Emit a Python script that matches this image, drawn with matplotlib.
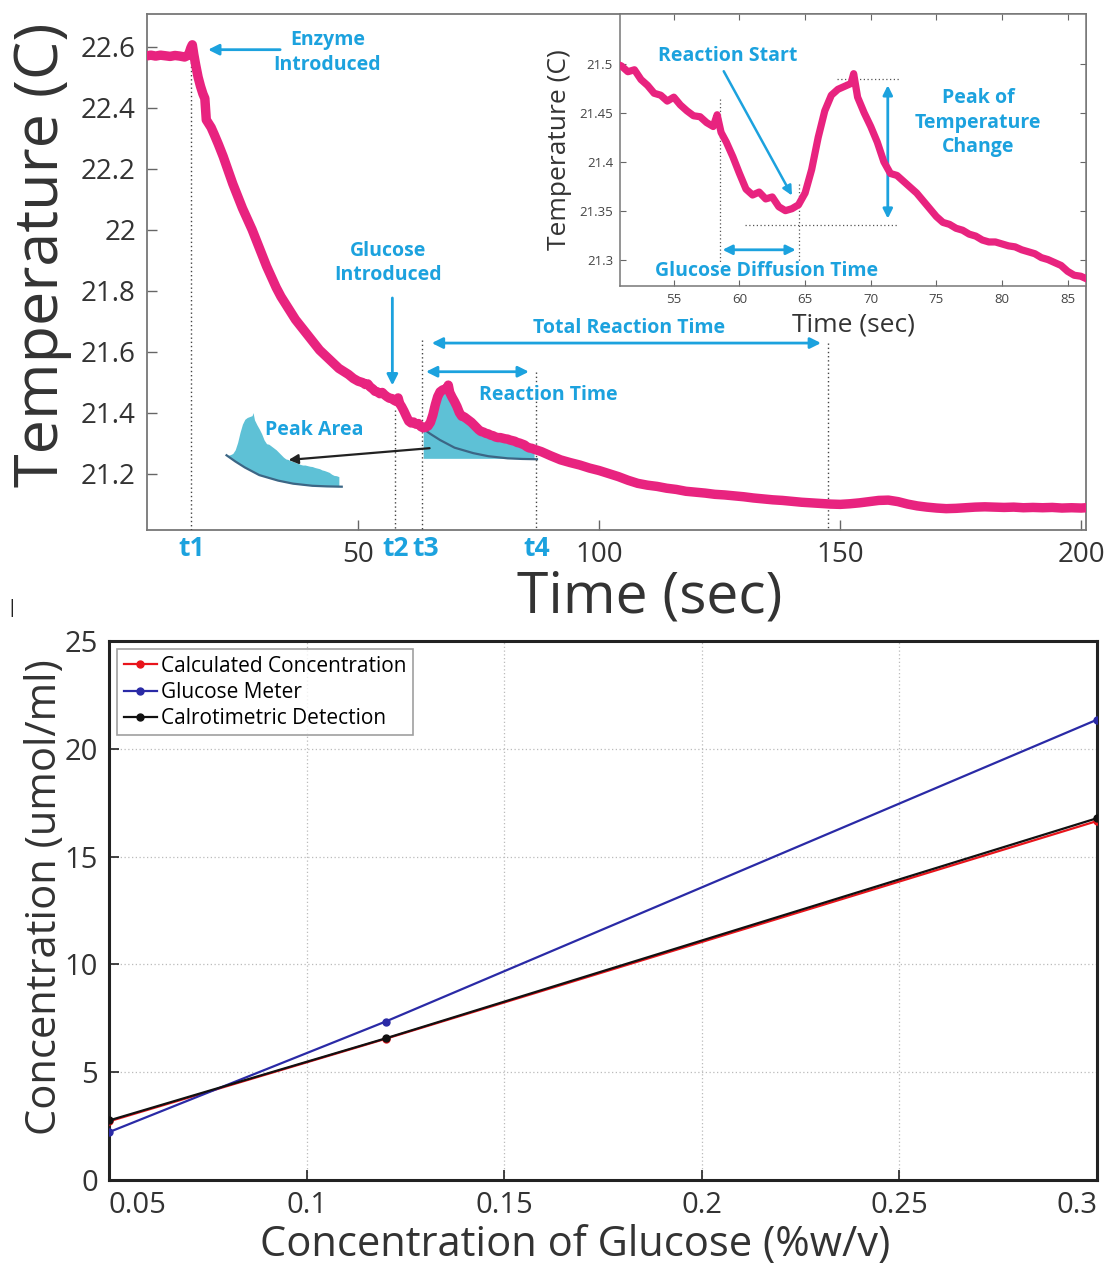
import numpy as np
import matplotlib
matplotlib.use('Agg')
import matplotlib.pyplot as plt
from matplotlib.ticker import FuncFormatter
import matplotlib.transforms as mtransforms

plt.rcParams['font.family'] = ['Open Sans', 'DejaVu Sans']

# ---------------- data: temperature trace ----------------
time_s = [6.3, 7, 8, 9, 10, 11, 12, 13, 14, 14.8, 15.3, 15.6, 15.9, 16.3, 16.8, 17.3, 17.8,
          18.2, 18.5, 18.9, 19.5, 20.2, 21, 22, 23, 24, 25, 26, 27, 28, 29, 30, 31, 32, 33,
          34, 35, 36, 37, 38, 39, 40, 41, 42, 43, 44, 45, 46, 47, 48, 49, 50,
          51.0, 51.5, 52.0, 52.5, 53.0, 53.5, 54.0, 54.5, 55.0, 55.5, 56.0, 56.5, 57.0, 57.5,
          58.0, 58.3, 58.6, 59.0, 59.5, 60.0, 60.5, 61.0, 61.5, 62.0, 62.5, 63.0, 63.5, 64.0,
          64.5, 65.0, 65.5, 66.0, 66.5, 67.0, 67.5, 68.0, 68.5, 68.7, 69.0, 69.5, 70.0, 70.5,
          71.0, 71.5, 72.0, 72.5, 73.0, 73.5, 74.0, 74.5, 75.0, 75.5, 76.0, 76.5, 77.0, 77.5,
          78.0, 78.5, 79.0, 79.5, 80.0, 80.5, 81.0, 81.5, 82.0, 82.5, 83.0, 83.5, 84.0, 84.5,
          85.0, 85.5, 86.0, 86.5,
          88, 90, 92, 94, 96, 98, 100, 102, 104, 106, 108, 110, 112, 114, 116, 118, 120, 122,
          124, 126, 128, 130, 132, 134, 136, 138, 140, 142, 144, 146, 148, 150, 152, 154, 156,
          158, 160, 162, 164, 166, 168, 170, 172, 174, 176, 178, 180, 182, 184, 186, 188, 190,
          192, 194, 196, 198, 200, 201]
temp_c = [22.570, 22.572, 22.569, 22.572, 22.570, 22.568, 22.571, 22.569, 22.566, 22.572,
          22.596, 22.606, 22.575, 22.540, 22.500, 22.470, 22.445, 22.430, 22.360, 22.350,
          22.335, 22.310, 22.280, 22.240, 22.195, 22.150, 22.110, 22.070, 22.035, 22.000,
          21.960, 21.920, 21.880, 21.845, 21.810, 21.780, 21.755, 21.730, 21.705, 21.685,
          21.665, 21.645, 21.625, 21.605, 21.590, 21.575, 21.560, 21.545, 21.535, 21.525,
          21.512, 21.503,
          21.498, 21.492, 21.494, 21.484, 21.478, 21.470, 21.468, 21.462, 21.466, 21.458,
          21.452, 21.447, 21.446, 21.440, 21.436, 21.448, 21.430, 21.420, 21.405, 21.388,
          21.372, 21.366, 21.369, 21.362, 21.364, 21.354, 21.350, 21.352, 21.356, 21.368,
          21.392, 21.425, 21.452, 21.468, 21.474, 21.477, 21.480, 21.490, 21.466, 21.450,
          21.436, 21.420, 21.400, 21.388, 21.386, 21.380, 21.374, 21.368, 21.360, 21.352,
          21.344, 21.338, 21.336, 21.332, 21.330, 21.326, 21.324, 21.320, 21.318, 21.318,
          21.316, 21.314, 21.313, 21.310, 21.308, 21.306, 21.302, 21.300, 21.297, 21.294,
          21.288, 21.284, 21.283, 21.280,
          21.272, 21.258, 21.245, 21.236, 21.228, 21.218, 21.210, 21.200, 21.190, 21.178,
          21.168, 21.162, 21.158, 21.152, 21.148, 21.142, 21.139, 21.136, 21.132, 21.130,
          21.127, 21.124, 21.120, 21.117, 21.114, 21.112, 21.109, 21.106, 21.104, 21.102,
          21.100, 21.099, 21.101, 21.104, 21.108, 21.112, 21.113, 21.108, 21.100, 21.094,
          21.090, 21.087, 21.085, 21.086, 21.088, 21.090, 21.091, 21.090, 21.089, 21.090,
          21.088, 21.089, 21.088, 21.089, 21.087, 21.088, 21.087, 21.088]

event_labels = ['t1', 't2', 't3', 't4']
event_times = [15.4, 57.7, 63.2, 87.0]
event_line_tops = [22.55, 21.41, 21.638, 21.534]
total_reaction_end = 147.5

baseline_t = [63.2, 65.0, 67.0, 70.0, 73.9, 77.0, 81.0, 84.0, 87.1]
baseline_T = [21.350, 21.330, 21.310, 21.285, 21.267, 21.257, 21.250, 21.248, 21.247]
peak_floor = 21.25

main_xticks = [50, 100, 150, 200]
main_yticks = [21.2, 21.4, 21.6, 21.8, 22.0, 22.2, 22.4, 22.6]
inset_xticks = [55, 60, 65, 70, 75, 80, 85]
inset_yticks = [21.3, 21.35, 21.4, 21.45, 21.5]

# ---------------- data: concentration comparison ----------------
glucose_pct = [0.05, 0.12, 0.30]
calc_conc = [2.72, 6.55, 16.65]
meter_conc = [2.22, 7.35, 21.35]
calor_conc = [2.76, 6.57, 16.78]
conc_xticks = [0.05, 0.1, 0.15, 0.2, 0.25, 0.3]
conc_yticks = [0, 5, 10, 15, 20, 25]

PINK = '#E8237F'
BLUE = '#1CA2DE'
FILL = '#5EC1D6'
DARK = '#333333'
GRAYSP = '#777777'

W, H = 1107, 1266
fig = plt.figure(figsize=(W / 100, H / 100), dpi=100)


def rect(l, t, r, b):
    return [l / W, 1 - b / H, (r - l) / W, (b - t) / H]


fmt = FuncFormatter(lambda v, p: '%g' % v)

# ================= main temperature axes =================
ax = fig.add_axes(rect(147, 14, 1086, 530))
ax.set_xlim(6.2, 201.0)
ax.set_ylim(21.015, 22.707)
ta = np.array(time_s)
Ta = np.array(temp_c)

# shaded peak area
m = (ta >= event_times[2]) & (ta <= event_times[3])
ax.fill_between(ta[m], Ta[m], peak_floor, color=FILL, lw=0, zorder=2)
ax.plot(baseline_t, baseline_T, color='#3C6685', lw=1.6, zorder=3)

# decorative copy of the peak area
dx, dy = -40.5, -0.09
base_interp = np.interp(ta[m], baseline_t, baseline_T)
ax.fill_between(ta[m] + dx, Ta[m] + dy, base_interp + dy, color=FILL, lw=0, zorder=2)
ax.plot(np.array(baseline_t) + dx, np.array(baseline_T) + dy, color='#3C6685', lw=1.6, zorder=3)

ax.plot(time_s, temp_c, color=PINK, lw=6.8, solid_joinstyle='round',
        solid_capstyle='round', zorder=4)

# event dotted lines
ylo = ax.get_ylim()[0]
for t, top in zip(event_times, event_line_tops):
    ax.plot([t, t], [top, ylo], ls=(0, (1, 2)), color='#444444', lw=1.0, zorder=3)
ax.plot([total_reaction_end, total_reaction_end], [21.628, ylo], ls=(0, (1, 2)),
        color='#444444', lw=1.0, zorder=3)

trans = mtransforms.blended_transform_factory(ax.transData, ax.transAxes)
for lab, t in zip(event_labels, event_times):
    ax.text(t + (0.8 if lab == 't3' else 0), -0.035, lab, transform=trans, ha='center', va='center',
            color=BLUE, fontsize=19, fontweight='bold')

ax.set_xticks(main_xticks)
ax.set_yticks(main_yticks)
ax.xaxis.set_major_formatter(fmt)
ax.yaxis.set_major_formatter(fmt)
ax.tick_params(direction='in', length=7, width=1, color='#666666', labelsize=20,
               labelcolor=DARK, pad=8)
for s in ax.spines.values():
    s.set_color(GRAYSP)
    s.set_linewidth(1.3)

ax.set_xlabel('Time (sec)', fontsize=41, color=DARK)
ax.xaxis.label.set_va('center')
ax.xaxis.set_label_coords(0.5357, -0.132)
ax.set_ylabel('Temperature (C)', fontsize=44, color=DARK)
ax.yaxis.label.set_va('center')
ax.yaxis.set_label_coords(-0.112, 0.533)

# annotations
akw = dict(color=BLUE, fontsize=14, fontweight='bold', ha='center', va='center',
           linespacing=1.3)
ax.text(43.6, 22.58, 'Enzyme\nIntroduced', **akw)
ax.annotate('', xy=(18.3, 22.59), xytext=(34.4, 22.59),
            arrowprops=dict(arrowstyle='-|>', color=BLUE, lw=2, mutation_scale=16))
ax.text(56.2, 21.89, 'Glucose\nIntroduced', **akw)
ax.annotate('', xy=(57.1, 21.48), xytext=(57.1, 21.785),
            arrowprops=dict(arrowstyle='-|>', color=BLUE, lw=2, mutation_scale=16))
ax.text(106.3, 21.677, 'Total Reaction Time', **akw)
ax.annotate('', xy=(146.6, 21.628), xytext=(64.7, 21.628),
            arrowprops=dict(arrowstyle='<|-|>', color=BLUE, lw=2, mutation_scale=16))
ax.text(89.4, 21.457, 'Reaction Time', **akw)
ax.annotate('', xy=(86.0, 21.534), xytext=(63.5, 21.534),
            arrowprops=dict(arrowstyle='<|-|>', color=BLUE, lw=2, mutation_scale=16))
ax.text(40.9, 21.343, 'Peak Area', **akw)
ax.annotate('', xy=(35.0, 21.244), xytext=(65.4, 21.284),
            arrowprops=dict(arrowstyle='-|>', color='#222222', lw=1.6, mutation_scale=14),
            zorder=5)

# ================= inset =================
ai = fig.add_axes(rect(620, 14, 1086, 286))
ai.set_facecolor('white')
ai.set_zorder(5)
ai.plot(time_s, temp_c, color=PINK, lw=5.2, solid_joinstyle='round', zorder=4)
ai.set_xlim(50.9, 86.4)
ai.set_ylim(21.273, 21.551)
ai.set_xticks(inset_xticks)
ai.set_yticks(inset_yticks)
ai.xaxis.set_major_formatter(fmt)
ai.yaxis.set_major_formatter(fmt)
ai.tick_params(direction='in', length=4, width=0.8, color='#666666', labelsize=9.5,
               labelcolor='#444444', top=True, right=True, pad=5)
for s in ai.spines.values():
    s.set_color(GRAYSP)
    s.set_linewidth(1.1)
ai.set_xlabel('Time (sec)', fontsize=19, color=DARK)
ai.xaxis.label.set_va('center')
ai.xaxis.set_label_coords(0.5, -0.143)
ai.set_ylabel('Temperature (C)', fontsize=19, color=DARK)
ai.yaxis.label.set_va('center')
ai.yaxis.set_label_coords(-0.129, 0.5)

dot = dict(ls=(0, (1, 2)), color='#555555', lw=0.9, zorder=3)
ai.plot([58.5, 58.5], [21.464, 21.298], **dot)
ai.plot([64.5, 64.5], [21.377, 21.298], **dot)
ai.plot([60.4, 72.0], [21.335, 21.335], **dot)
ai.plot([67.4, 72.2], [21.485, 21.485], **dot)
ai.annotate('', xy=(64.5, 21.31), xytext=(58.5, 21.31),
            arrowprops=dict(arrowstyle='<|-|>', color=BLUE, lw=2, mutation_scale=14))
ai.annotate('', xy=(71.3, 21.481), xytext=(71.3, 21.339),
            arrowprops=dict(arrowstyle='<|-|>', color=BLUE, lw=2, mutation_scale=14))
ai.annotate('', xy=(64.1, 21.363), xytext=(58.7, 21.495),
            arrowprops=dict(arrowstyle='-|>', color=BLUE, lw=1.8, mutation_scale=14))
ai.text(59.1, 21.508, 'Reaction Start', **akw)
ai.text(78.2, 21.44, 'Peak of\nTemperature\nChange', **akw)
ai.text(62.1, 21.288, 'Glucose Diffusion Time', **akw)

# small artifact mark
fig.text(12 / W, 1 - 608 / H, '|', fontsize=14, color='#222222', ha='center', va='center')

# ================= concentration axes =================
bx = fig.add_axes(rect(109, 641, 1097, 1180))
bx.plot(glucose_pct, calc_conc, '-o', color='#E8141B', lw=1.6, ms=5,
        label='Calculated Concentration', zorder=3)
bx.plot(glucose_pct, meter_conc, '-o', color='#2A2AA6', lw=1.6, ms=5,
        label='Glucose Meter', zorder=3)
bx.plot(glucose_pct, calor_conc, '-o', color='#111111', lw=1.6, ms=5,
        label='Calrotimetric Detection', zorder=4)
bx.set_xlim(0.05, 0.3)
bx.set_ylim(0, 25)
bx.set_xticks(conc_xticks)
bx.set_yticks(conc_yticks)
bx.xaxis.set_major_formatter(fmt)
bx.yaxis.set_major_formatter(fmt)
bx.grid(True, ls=(0, (1, 2)), color='#BBBBBB', lw=0.9)
bx.tick_params(direction='in', length=7, width=1.2, color='#222222', labelsize=21,
               labelcolor=DARK, pad=8)
for s in bx.spines.values():
    s.set_color('#222222')
    s.set_linewidth(2.2)
xl = bx.get_xticklabels()
xl[0].set_ha('left')
xl[-1].set_ha('right')
bx.set_xlabel('Concentration of Glucose (%w/v)', fontsize=30, color=DARK)
bx.xaxis.label.set_va('center')
bx.xaxis.set_label_coords(0.472, -0.121)
bx.set_ylabel('Concentration (umol/ml)', fontsize=30, color=DARK)
bx.yaxis.label.set_va('center')
bx.yaxis.set_label_coords(-0.065, 0.525)
leg = bx.legend(loc='upper left', fontsize=15, frameon=True, fancybox=False,
                edgecolor='#888888', handlelength=1.6, handletextpad=0.2,
                borderaxespad=0.4, borderpad=0.3, labelspacing=0.25)
leg.get_frame().set_linewidth(1.2)

fig.savefig('out.png', dpi=100, facecolor='white')
